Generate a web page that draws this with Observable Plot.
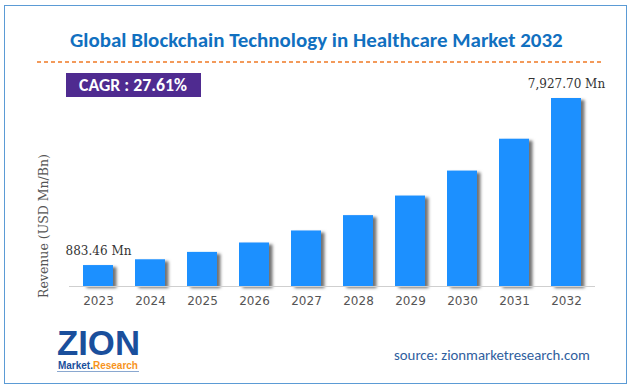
<!DOCTYPE html>
<html>
<head>
<meta charset="utf-8">
<script src="https://cdn.jsdelivr.net/npm/d3@7"></script>
<script src="https://cdn.jsdelivr.net/npm/@observablehq/plot@0.6"></script>
<style>
  html, body { margin: 0; padding: 0; background: #fff; }
  #page { position: relative; width: 633px; height: 392px; overflow: hidden; background: #fff; }
  #frame { position: absolute; left: 4px; top: 5px; width: 623px; height: 379px; border: 1.5px solid #5b9bd5; box-sizing: border-box; }
  .abs { position: absolute; white-space: nowrap; }
  #title { left: 70px; top: 29px; font-family: Carlito, Lato, "Open Sans", sans-serif; font-weight: 700; font-size: 19px; color: #1170c0; line-height: 22px; }
  #dash { left: 37px; top: 61px; width: 564px; height: 1.5px; background: repeating-linear-gradient(to right, #f39a5a 0 4px, transparent 4px 7px); }
  #cagr { left: 66px; top: 73px; width: 135px; height: 24px; background: #4f2b90; }
  #cagrText { left: 79px; top: 73px; color: #fff; font-family: Carlito, Lato, sans-serif; font-weight: 700; font-size: 17px; line-height: 24px; }
  #ylab { left: 43px; top: 226px; transform: translate(-50%, -50%) rotate(-90deg); font-family: "DejaVu Serif", serif; font-size: 12.5px; color: #555; }
  #source { left: 394px; top: 346px; font-family: Carlito, Lato, sans-serif; font-size: 14px; color: #2f5e9e; line-height: 18px; }
  #logo1 { left: 57px; font-family: "Liberation Sans", Arial, sans-serif; font-weight: 700; font-size: 34px; color: #1a4f9c; }
  #logo2 { left: 58px; font-family: "Liberation Sans", Arial, sans-serif; font-weight: 700; font-size: 9px; color: #1a4f9c; }
  #logoLine { left: 57px; top: 371px; width: 82px; height: 0; border-top: 1px solid #8aa8d0; }
  #logo2 span { color: #f7941d; }
  #chart { position: absolute; left: 0; top: 0; }
</style>
</head>
<body>
<div id="page">
  <div id="frame"></div>
  <div id="chart"></div>
  <div id="title" class="abs">Global Blockchain Technology in Healthcare Market 2032</div>
  <div id="dash" class="abs"></div>
  <div id="cagr" class="abs"></div>
  <div id="cagrText" class="abs">CAGR : 27.61%</div>
  <div id="ylab" class="abs">Revenue (USD Mn/Bn)</div>
  <div id="logo1" class="abs">ZION</div>
  <div id="logo2" class="abs">Market.<span>Research</span></div>
  <div id="logoLine" class="abs"></div>
  <div id="source" class="abs">source: zionmarketresearch.com</div>
</div>
<script>
const years = ["2023","2024","2025","2026","2027","2028","2029","2030","2031","2032"];
const revenue = [883.46, 1127, 1438, 1835, 2342, 2989, 3814, 4867, 6211, 7927.70];
const labelYears = ["2023","2032"];
const labelTexts = ["883.46 Mn","7,927.70 Mn"];

const data = years.map((y, i) => ({year: y, value: revenue[i]}));
const labels = labelYears.map((y, i) => ({year: y, value: revenue[years.indexOf(y)], text: labelTexts[i]}));

const plot = Plot.plot({
  width: 633,
  height: 316,
  marginLeft: 69,
  marginRight: 38,
  marginTop: 98,
  marginBottom: 30,
  style: {background: "transparent", overflow: "visible"},
  x: {type: "band", domain: years, paddingInner: 0.43, paddingOuter: 0.2, label: null, tickSize: 0, tickPadding: 9},
  y: {domain: [0, 7927.70], axis: null},
  marks: [
    Plot.barY(data, {x: "year", y: "value", fill: "#1e90ff"}),
    Plot.ruleY([0], {stroke: "#cfcfcf", strokeWidth: 1.2}),
    Plot.text(labels, {x: "year", y: "value", text: "text", dy: -14, fontFamily: "DejaVu Serif, serif", fontSize: 12, fill: "#333"}),
    Plot.axisX({tickSize: 0, tickPadding: 10, fontFamily: "DejaVu Sans, Verdana, sans-serif", fontSize: 12, color: "#555", label: null})
  ]
});
document.getElementById("chart").appendChild(plot);

// drop shadow on bars
const ns = "http://www.w3.org/2000/svg";
const defs = document.createElementNS(ns, "defs");
defs.innerHTML = '<filter id="shadow" x="-20%" y="-10%" width="160%" height="130%"><feDropShadow dx="3.5" dy="2" stdDeviation="1.4" flood-color="#000" flood-opacity="0.55"/></filter>';
plot.insertBefore(defs, plot.firstChild);
const barG = plot.querySelector('g[aria-label="bar"]');
if (barG) barG.setAttribute("filter", "url(#shadow)");
plot.querySelectorAll('g[aria-label="x-axis tick label"] text').forEach(t => t.setAttribute("fill", "#555"));

// fit text widths to reference
function fit(id, w) {
  const el = document.getElementById(id);
  const cur = el.getBoundingClientRect().width;
  const fs = parseFloat(getComputedStyle(el).fontSize);
  el.style.fontSize = (fs * w / cur) + "px";
}
fit("title", 493);
fit("source", 196);
fit("cagrText", 108);
fit("logo1", 83);
fit("logo2", 80);

// place logo texts by baseline (Liberation Sans: ascent .905, descent .212, line-height = content)
function placeBaseline(id, baseline) {
  const el = document.getElementById(id);
  const fs = parseFloat(el.style.fontSize);
  el.style.lineHeight = (fs * 1.117) + "px";
  el.style.top = (baseline - fs * 0.905) + "px";
}
placeBaseline("logo1", 355);
placeBaseline("logo2", 369.5);
</script>
</body>
</html>
